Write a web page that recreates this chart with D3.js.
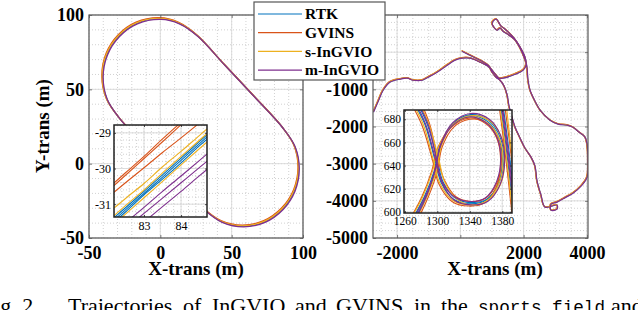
<!DOCTYPE html>
<html>
<head>
<meta charset="utf-8">
<script src="https://cdn.jsdelivr.net/npm/d3@7"></script>
<style>
body { margin: 0; background: #fff; }
svg { display: block; font-family: "Liberation Serif", "Times New Roman", serif; }
</style>
</head>
<body>
<svg id="chart" width="638" height="310"></svg>
<script>
const seriesNames = ["RTK", "GVINS", "s-InGVIO", "m-InGVIO"];
const seriesColors = ["#0072BD", "#D95319", "#EDB120", "#7E2F8E"];

// sports field, one lap per method [x, y] (m)
const fieldRTK = [[0,97.5],[13,94.5],[26,86],[45,66.5],[66,45],[85.5,24.5],[94,12],[97,-3],[94,-18],[85.5,-30.5],[73,-39],[58,-42],[43,-39],[30.5,-30.5],[12,-11.5],[-10,11.5],[-29,31],[-37.5,43.5],[-40.5,58.5],[-37.5,73.5],[-29,86],[-16.5,94.5]];
const fieldGVINS = [[-0.5,98.2],[12.5,95.2],[25.5,86.7],[44.5,67.2],[65.5,45.7],[85,25.2],[93.5,12.7],[96.5,-2.3],[93.5,-17.3],[85,-29.8],[72.5,-38.3],[57.5,-41.3],[42.5,-38.3],[30,-29.8],[11.5,-10.8],[-10.5,12.2],[-29.5,31.7],[-38,44.2],[-41,59.2],[-38,74.2],[-29.5,86.7],[-17,95.2]];
const fieldSIn = [[-0.2,97.7],[12.8,94.7],[25.8,86.2],[44.8,66.7],[65.8,45.2],[85.3,24.7],[93.8,12.2],[96.8,-2.8],[93.8,-17.8],[85.3,-30.3],[72.8,-38.8],[57.8,-41.8],[42.8,-38.8],[30.3,-30.3],[11.8,-11.3],[-10.2,11.7],[-29.2,31.2],[-37.7,43.7],[-40.7,58.7],[-37.7,73.7],[-29.2,86.2],[-16.7,94.7]];
const fieldMIn = [[0.4,97.0],[13.4,94.0],[26.4,85.5],[45.4,66],[66.4,44.5],[85.9,24],[94.4,11.5],[97.4,-3.5],[94.4,-18.5],[85.9,-31],[73.4,-39.5],[58.4,-42.5],[43.4,-39.5],[30.9,-31],[12.4,-12],[-9.6,11],[-28.6,30.5],[-37.1,43],[-40.1,58],[-37.1,73],[-28.6,85.5],[-16.1,94]];

// zoom of the field, several laps per method
const zoomFieldRTK = [
    [[82.0,-31.62],[82.5,-31.16],[83.0,-30.70],[83.5,-30.24],[84.0,-29.77],[84.5,-29.30],[84.9,-28.93]],
    [[82.0,-31.68],[82.5,-31.22],[83.0,-30.74],[83.5,-30.30],[84.0,-29.84],[84.5,-29.36],[84.9,-29.00]],
    [[82.0,-31.55],[82.5,-31.10],[83.0,-30.64],[83.5,-30.18],[84.0,-29.71],[84.5,-29.24],[84.9,-28.87]]
];
const zoomFieldGVINS = [
    [[82.0,-30.58],[82.5,-30.12],[83.0,-29.66],[83.5,-29.17],[84.0,-28.70],[84.3,-28.42]],
    [[82.0,-30.65],[82.5,-30.19],[83.0,-29.72],[83.5,-29.25],[84.0,-28.77],[84.3,-28.49]],
    [[82.0,-30.83],[82.5,-30.40],[83.0,-29.98],[83.5,-29.55],[84.0,-29.14],[84.5,-28.72],[84.7,-28.55]]
];
const zoomFieldSIn = [
    [[82.0,-31.28],[82.5,-30.84],[83.0,-30.42],[83.5,-29.95],[84.0,-29.52],[84.5,-29.07],[84.9,-28.72]],
    [[82.0,-31.50],[82.5,-31.04],[83.0,-30.60],[83.5,-30.12],[84.0,-29.66],[84.5,-29.20],[84.9,-28.84]],
    [[82.0,-31.72],[82.5,-31.28],[83.0,-30.82],[83.5,-30.36],[84.0,-29.90],[84.5,-29.44],[84.9,-29.08]]
];
const zoomFieldMIn = [
    [[82.5,-31.52],[83.0,-31.09],[83.5,-30.64],[84.0,-30.21],[84.5,-29.77],[84.9,-29.42]],
    [[82.7,-31.52],[83.0,-31.26],[83.5,-30.83],[84.0,-30.40],[84.5,-29.97],[84.9,-29.62]],
    [[83.0,-31.50],[83.5,-31.07],[84.0,-30.64],[84.5,-30.20],[84.9,-29.86]]
];

// urban drive [x, y] (m)
const cityRTK = [[50,30],[300,-80],[620,-210],[870,-345],[970,-450],[1125,-615],[1220,-695],[1345,-695],[1725,-590],[1980,-480],[2075,-320],[2010,-130],[1885,110],[1725,330],[1535,460],[1345,570],[1250,650],[1157,597],[999,785],[1125,892],[1283,704],[1410,623],[1695,380],[1885,140],[2040,-130],[2105,-425],[2135,-750],[2200,-1020],[2355,-1315],[2515,-1555],[2830,-1825],[3085,-1930],[3370,-1960],[3555,-2015],[3745,-2145],[3935,-2280],[4000,-2470],[4030,-2900],[4000,-3360],[3810,-3600],[3555,-3790],[3335,-3895],[3050,-4030],[2862,-4084],[2862,-4246],[3052,-4219],[3052,-4111],[2673,-4165],[2545,-3840],[2420,-3465],[2355,-3060],[2230,-2820],[2040,-2580],[1885,-2310],[1725,-2015],[1630,-1745],[1535,-1450],[1475,-1150],[1380,-910],[1250,-750],[1125,-670],[1000,-535],[905,-400],[620,-265],[305,-155],[50,-155],[-170,-210],[-420,-345],[-740,-535],[-1025,-670],[-1210,-750],[-1495,-750],[-1685,-695],[-1905,-720],[-2225,-800],[-2445,-1020],[-2600,-1315],[-2750,-1610]];
const cityGVINS = [[40,45],[290,-65],[610,-195],[860,-330],[960,-440],[1115,-600],[1210,-685],[1340,-680],[1720,-575],[1970,-465],[2065,-310],[2000,-120],[1875,120],[1715,340],[1525,470],[1335,580],[1240,660],[1147,607],[989,795],[1115,902],[1273,714],[1400,633],[1685,390],[1875,150],[2030,-120],[2095,-415],[2125,-740],[2190,-1010],[2345,-1305],[2505,-1545],[2820,-1815],[3075,-1920],[3360,-1950],[3545,-2005],[3735,-2135],[3925,-2270],[3990,-2460],[4020,-2890],[3990,-3350],[3800,-3590],[3545,-3780],[3325,-3885],[3040,-4020],[2852,-4074],[2852,-4236],[3042,-4209],[3042,-4101],[2663,-4155],[2535,-3830],[2410,-3455],[2345,-3050],[2220,-2810],[2030,-2570],[1875,-2300],[1715,-2005],[1620,-1735],[1525,-1440],[1465,-1140],[1370,-900],[1240,-740],[1115,-660],[990,-525],[895,-390],[610,-255],[295,-145],[40,-145],[-180,-200],[-430,-335],[-750,-525],[-1035,-660],[-1220,-740],[-1505,-740],[-1695,-685],[-1915,-710],[-2235,-790],[-2455,-1010],[-2610,-1305],[-2758,-1600]];
const citySIn = [[45,38],[295,-72],[615,-202],[865,-337],[965,-445],[1120,-607],[1215,-690],[1342,-688],[1722,-582],[1975,-472],[2070,-315],[2005,-125],[1880,115],[1720,335],[1530,465],[1340,575],[1245,655],[1152,602],[994,790],[1120,897],[1278,709],[1405,628],[1690,385],[1880,145],[2035,-125],[2100,-420],[2130,-745],[2195,-1015],[2350,-1310],[2510,-1550],[2825,-1820],[3080,-1925],[3365,-1955],[3550,-2010],[3740,-2140],[3930,-2275],[3995,-2465],[4025,-2895],[3995,-3355],[3805,-3595],[3550,-3785],[3330,-3890],[3045,-4025],[2857,-4079],[2857,-4241],[3047,-4214],[3047,-4106],[2668,-4160],[2540,-3835],[2415,-3460],[2350,-3055],[2225,-2815],[2035,-2575],[1880,-2305],[1720,-2010],[1625,-1740],[1530,-1445],[1470,-1145],[1375,-905],[1245,-745],[1120,-665],[995,-530],[900,-395],[615,-260],[300,-150],[45,-150],[-175,-205],[-425,-340],[-745,-530],[-1030,-665],[-1215,-745],[-1500,-745],[-1690,-690],[-1910,-715],[-2230,-795],[-2450,-1015],[-2605,-1310],[-2754,-1605]];
const cityMIn = [[55,25],[305,-85],[625,-215],[875,-350],[975,-455],[1130,-620],[1225,-700],[1350,-700],[1730,-595],[1985,-485],[2080,-325],[2015,-135],[1890,105],[1730,325],[1540,455],[1350,565],[1255,645],[1162,592],[1004,780],[1130,887],[1288,699],[1415,618],[1700,375],[1890,135],[2045,-135],[2110,-430],[2140,-755],[2205,-1025],[2360,-1320],[2520,-1560],[2835,-1830],[3090,-1935],[3375,-1965],[3560,-2020],[3750,-2150],[3940,-2285],[4005,-2475],[4032,-2905],[4005,-3365],[3815,-3605],[3560,-3795],[3340,-3900],[3055,-4035],[2867,-4089],[2867,-4251],[3057,-4224],[3057,-4116],[2678,-4170],[2550,-3845],[2425,-3470],[2360,-3065],[2235,-2825],[2045,-2585],[1890,-2315],[1730,-2020],[1635,-1750],[1540,-1455],[1480,-1155],[1385,-915],[1255,-755],[1130,-675],[1005,-540],[910,-405],[625,-270],[310,-160],[55,-160],[-165,-215],[-415,-350],[-735,-540],[-1020,-675],[-1205,-755],[-1490,-755],[-1680,-700],[-1900,-725],[-2220,-805],[-2440,-1025],[-2595,-1320],[-2745,-1615]];

// zoom of the loop near (1330, 645), two laps per method plus the passing road
const zoomCityRTK = [
    [[1270,696],[1285,675],[1297,645],[1305,625],[1320,611],[1340,607],[1360,610],[1375,624],[1380,646],[1375,665],[1362,678],[1340,683],[1318,675],[1303,657],[1296,635],[1284,613],[1268,592]],
    [[1274,696],[1288,675],[1300,645],[1307,626],[1322,612],[1341,608],[1361,611],[1376,625],[1382,646],[1377,665],[1363,679],[1341,684],[1319,676],[1305,658],[1298,635],[1286,613],[1271,592]],
    [[1378,692],[1384,660],[1389,630],[1394,598]],
    [[1381,692],[1387,660],[1392,630],[1397,598]]
];
const zoomCityGVINS = [
    [[1266,696],[1281,675],[1294,645],[1302,624],[1318,609],[1339,605],[1359,608],[1373,622],[1378,645],[1373,664],[1360,676],[1339,681],[1317,673],[1301,656],[1293,635],[1281,613],[1265,592]],
    [[1279,696],[1291,675],[1301,645],[1309,627],[1323,613],[1341,609],[1360,612],[1374,626],[1379,646],[1374,664],[1361,677],[1340,680],[1320,673],[1306,656],[1300,635],[1289,613],[1275,592]],
    [[1376,692],[1382,660],[1387,630],[1392,598]],
    [[1383,692],[1389,660],[1394,630],[1399,598]]
];
const zoomCitySIn = [
    [[1268,696],[1283,675],[1295,645],[1303,625],[1319,610],[1340,606],[1360,609],[1375,623],[1381,645],[1376,664],[1361,677],[1340,682],[1318,674],[1302,657],[1294,635],[1282,613],[1266,592]],
    [[1277,696],[1290,675],[1302,645],[1309,626],[1324,611],[1342,606],[1362,610],[1378,624],[1383,646],[1378,666],[1364,679],[1341,683],[1320,676],[1306,659],[1299,636],[1288,614],[1273,592]],
    [[1377,692],[1383,660],[1388,630],[1393,598]],
    [[1385,692],[1390,660],[1395,630],[1400,598]]
];
const zoomCityMIn = [
    [[1272,696],[1286,675],[1298,645],[1306,625],[1321,610],[1341,606],[1362,609],[1377,623],[1383,645],[1378,666],[1364,680],[1341,685],[1319,677],[1304,658],[1297,635],[1285,613],[1269,592]],
    [[1275,696],[1289,675],[1299,645],[1306,626],[1321,613],[1340,609],[1359,612],[1373,626],[1378,647],[1373,665],[1360,677],[1339,682],[1318,674],[1304,657],[1297,636],[1287,614],[1272,592]],
    [[1379,692],[1385,660],[1390,630],[1395,598]],
    [[1380,692],[1386,660],[1391,630],[1396,598]]
];

// tick values; labels hidden under the legend are left blank
const fieldTicks = [-50, 0, 50, 100];
const cityXTicks = [-2000, 0, 2000, 4000];
const cityYTicks = [-5000, -4000, -3000, -2000, -1000, 0, 1000];
const cityYHidden = [0, 1000];
const zoomFieldXTicks = [83, 84];
const zoomFieldYTicks = [-31, -30, -29];
const zoomCityXTicks = [1260, 1300, 1340, 1380];
const zoomCityYTicks = [600, 620, 640, 660, 680];

var svg = d3.select("#chart");
var defs = svg.append("defs");
var clipCount = 0;

function range(a, b, step) {
    // positions for the dotted minor grid
    return d3.range(Math.ceil(a / step - 1e-6) * step, b + step * 0.001, step);
}

function drawPanel(p) {
    var x = d3.scaleLinear().domain(p.xDomain).range([p.left, p.right]);
    var y = d3.scaleLinear().domain(p.yDomain).range([p.bottom, p.top]);
    var g = svg.append("g");

    g.append("rect")
        .attr("x", p.left).attr("y", p.top)
        .attr("width", p.right - p.left).attr("height", p.bottom - p.top)
        .attr("fill", "#fff");

    // minor grid
    range(p.xDomain[0], p.xDomain[1], p.xMinor).forEach(function(v) {
        g.append("line")
            .attr("x1", x(v)).attr("x2", x(v)).attr("y1", p.top).attr("y2", p.bottom)
            .attr("stroke", "#bdbdbd").attr("stroke-width", 0.7).attr("stroke-dasharray", "1,2");
    });
    range(p.yDomain[0], p.yDomain[1], p.yMinor).forEach(function(v) {
        g.append("line")
            .attr("y1", y(v)).attr("y2", y(v)).attr("x1", p.left).attr("x2", p.right)
            .attr("stroke", "#bdbdbd").attr("stroke-width", 0.7).attr("stroke-dasharray", "1,2");
    });
    // major grid
    p.xTicks.forEach(function(v) {
        g.append("line")
            .attr("x1", x(v)).attr("x2", x(v)).attr("y1", p.top).attr("y2", p.bottom)
            .attr("stroke", "#d9d9d9").attr("stroke-width", 0.9);
    });
    p.yTicks.forEach(function(v) {
        g.append("line")
            .attr("y1", y(v)).attr("y2", y(v)).attr("x1", p.left).attr("x2", p.right)
            .attr("stroke", "#d9d9d9").attr("stroke-width", 0.9);
    });

    clipCount++;
    defs.append("clipPath").attr("id", "clip" + clipCount)
        .append("rect")
        .attr("x", p.left).attr("y", p.top)
        .attr("width", p.right - p.left).attr("height", p.bottom - p.top);

    var line = d3.line()
        .x(function(d) { return x(d[0]) })
        .y(function(d) { return y(d[1]) })
        .curve(p.closed ? d3.curveCatmullRomClosed : d3.curveCatmullRom);

    var lines = g.append("g").attr("clip-path", "url(#clip" + clipCount + ")");
    p.series.forEach(function(laps, i) {
        laps.forEach(function(lap) {
            lines.append("path")
                .datum(lap)
                .attr("fill", "none")
                .attr("stroke", seriesColors[i])
                .attr("stroke-width", p.lineWidth)
                .attr("stroke-linejoin", "round")
                .attr("d", line);
        });
    });

    var hidden = p.hidden || [];
    var fmt = function(d) { return hidden.indexOf(d) >= 0 ? "" : String(d) };
    var ax = [
        {a: d3.axisBottom(x), t: "translate(0," + p.bottom + ")", v: p.xTicks, lab: true, pad: p.xPad},
        {a: d3.axisTop(x), t: "translate(0," + p.top + ")", v: p.xTicks, lab: false, pad: 3},
        {a: d3.axisLeft(y), t: "translate(" + p.left + ",0)", v: p.yTicks, lab: true, pad: p.yPad},
        {a: d3.axisRight(y), t: "translate(" + p.right + ",0)", v: p.yTicks, lab: false, pad: 3}
    ];
    ax.forEach(function(o) {
        var ag = g.append("g")
            .attr("transform", o.t)
            .call(o.a.tickValues(o.v).tickSize(-p.tickLen).tickPadding(o.pad).tickFormat(o.lab ? fmt : ""));
        ag.select(".domain").remove();
        ag.selectAll(".tick line").attr("stroke", p.boxColor).attr("stroke-width", 0.8);
        ag.selectAll("text")
            .attr("fill", "#000")
            .style("font-family", "'Liberation Serif', serif")
            .style("font-size", p.fontSize + "px")
            .style("font-weight", p.fontWeight);
    });

    g.append("rect")
        .attr("x", p.left).attr("y", p.top)
        .attr("width", p.right - p.left).attr("height", p.bottom - p.top)
        .attr("fill", "none")
        .attr("stroke", p.boxColor)
        .attr("stroke-width", p.boxWidth);
}

// sports field
drawPanel({
    left: 89, right: 303, top: 15, bottom: 238,
    xDomain: [-50, 100], yDomain: [-50, 100],
    xTicks: fieldTicks, yTicks: fieldTicks, xMinor: 10, yMinor: 10,
    series: [[fieldRTK], [fieldGVINS], [fieldSIn], [fieldMIn]], closed: true,
    lineWidth: 1.3, tickLen: 3, xPad: 8, yPad: 5, fontSize: 18, fontWeight: "bold",
    boxColor: "#5a5a5a", boxWidth: 1.2
});
drawPanel({
    left: 114, right: 207, top: 125, bottom: 217,
    xDomain: [82.19, 84.7], yDomain: [-31.36, -28.78],
    xTicks: zoomFieldXTicks, yTicks: zoomFieldYTicks, xMinor: 0.2, yMinor: 0.2,
    series: [zoomFieldRTK, zoomFieldGVINS, zoomFieldSIn, zoomFieldMIn], closed: false,
    lineWidth: 1.1, tickLen: 2, xPad: 4, yPad: 3, fontSize: 12, fontWeight: "normal",
    boxColor: "#222", boxWidth: 1.5
});

// urban drive
drawPanel({
    left: 373, right: 588, top: 15, bottom: 238,
    xDomain: [-2760, 4035], yDomain: [-5000, 1000],
    xTicks: cityXTicks, yTicks: cityYTicks, xMinor: 500, yMinor: 200, hidden: cityYHidden,
    series: [[cityRTK], [cityGVINS], [citySIn], [cityMIn]], closed: false,
    lineWidth: 1.2, tickLen: 3, xPad: 8, yPad: 5, fontSize: 18, fontWeight: "bold",
    boxColor: "#5a5a5a", boxWidth: 1.2
});
drawPanel({
    left: 404, right: 512, top: 110, bottom: 213,
    xDomain: [1259, 1392], yDomain: [599, 688],
    xTicks: zoomCityXTicks, yTicks: zoomCityYTicks, xMinor: 10, yMinor: 5,
    series: [zoomCityRTK, zoomCityGVINS, zoomCitySIn, zoomCityMIn], closed: false,
    lineWidth: 1.1, tickLen: 2, xPad: 4, yPad: 3, fontSize: 11.5, fontWeight: "normal",
    boxColor: "#222", boxWidth: 1.5
});

// axis titles
svg.append("text")
    .attr("x", 196).attr("y", 275)
    .attr("text-anchor", "middle")
    .style("font-size", "19px").style("font-weight", "bold")
    .text("X-trans (m)");
svg.append("text")
    .attr("x", 495).attr("y", 275)
    .attr("text-anchor", "middle")
    .style("font-size", "19px").style("font-weight", "bold")
    .text("X-trans (m)");
svg.append("text")
    .attr("transform", "translate(49,126) rotate(-90)")
    .attr("text-anchor", "middle")
    .style("font-size", "19px").style("font-weight", "bold")
    .text("Y-trans (m)");

// legend
var legend = svg.append("g");
legend.append("rect")
    .attr("x", 254).attr("y", 2).attr("width", 131).attr("height", 78)
    .attr("fill", "#fff").attr("stroke", "#555").attr("stroke-width", 1.2);
var items = legend.selectAll(".item")
    .data(seriesNames)
    .enter().append("g")
    .attr("transform", function(d, i) { return "translate(0," + (14 + i * 18.7) + ")" });
items.append("line")
    .attr("x1", 258).attr("x2", 302)
    .attr("stroke", function(d, i) { return seriesColors[i] })
    .attr("stroke-width", 1.2);
items.append("text")
    .attr("x", 305).attr("dy", "0.34em")
    .style("font-size", "15.5px").style("font-weight", "bold")
    .text(function(d) { return d });

// caption, cut by the bottom edge of the figure
var capWords = [
    {w: "Fig. 2.", x: -18}, {w: "Trajectories", x: 68}, {w: "of", x: 183}, {w: "InGVIO", x: 212},
    {w: "and", x: 295}, {w: "GVINS", x: 336}, {w: "in", x: 414}, {w: "the", x: 441}, {w: "and", x: 611}
];
capWords.forEach(function(c) {
    svg.append("text").attr("x", c.x).attr("y", 313).style("font-size", "22px").text(c.w);
});
svg.append("text")
    .attr("x", 478).attr("y", 313)
    .attr("textLength", 127).attr("lengthAdjust", "spacingAndGlyphs")
    .style("font-family", "'Liberation Mono', monospace").style("font-size", "19px")
    .text("sports_field");
</script>
</body>
</html>
